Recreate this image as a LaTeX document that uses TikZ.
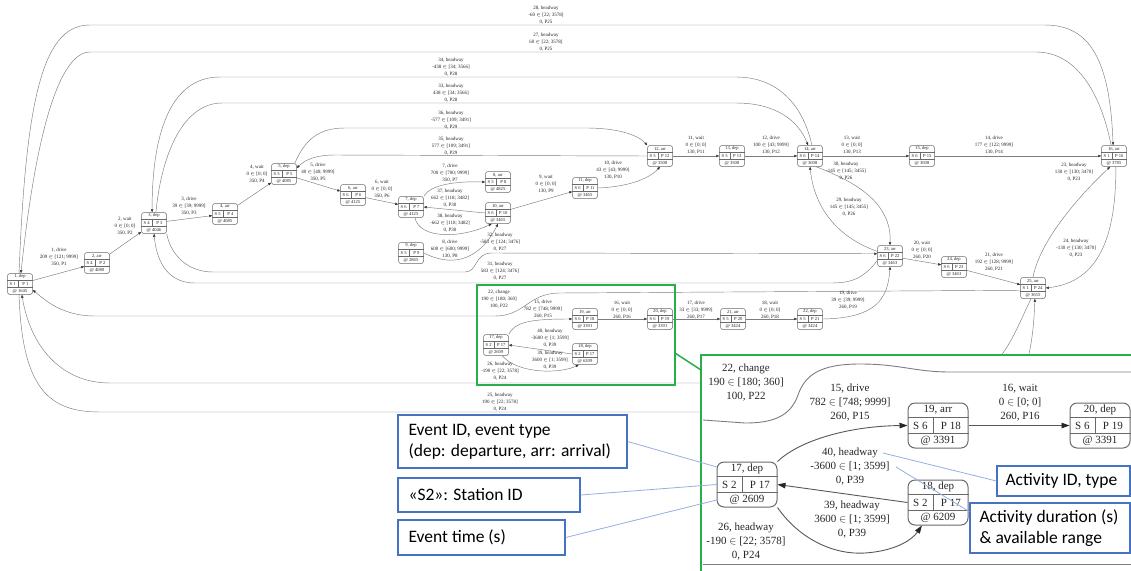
\documentclass[tikz,border=0pt]{standalone}
\usepackage{fontspec}
\setmainfont{Liberation Serif}
\newfontfamily\calfont{Carlito}
\usetikzlibrary{arrows.meta,calc}
\definecolor{edgeGray}{RGB}{125,125,125}
\definecolor{boxGray}{RGB}{105,105,105}
\definecolor{zoomGreen}{RGB}{40,175,75}
\definecolor{tipBlue}{RGB}{70,114,196}
\definecolor{tipLine}{RGB}{150,175,225}
\tikzset{
    smbox/.style={draw=boxGray, line width=0.5pt, rounded corners=2.5pt, fill=white,
                  minimum width=25pt, minimum height=21pt, inner sep=0pt},
    lgbox/.style={draw=boxGray, line width=1pt, rounded corners=7pt, fill=white,
                  minimum width=60pt, minimum height=45pt, inner sep=0pt},
    smrule/.style={draw=boxGray, line width=0.4pt},
    lgrule/.style={draw=boxGray, line width=0.8pt},
    smtxt/.style={font=\fontsize{4.6}{5}\selectfont, inner sep=0pt, text=black!85},
    lgtxt/.style={font=\fontsize{11}{12}\selectfont, inner sep=0pt, text=black!85},
    lbl/.style={font=\fontsize{5}{6.8}\selectfont, align=center, inner sep=0pt, text=black!85},
    lgl/.style={font=\fontsize{11}{14}\selectfont, align=center, inner sep=0pt, text=black!85},
    act/.style={draw=edgeGray, line width=0.45pt, -{Triangle[length=3pt, width=2.4pt, color=black!80]}},
    actL/.style={draw=edgeGray!70!black, line width=0.9pt, -{Triangle[length=8pt, width=5.5pt, color=black!85]}},
    wire/.style={draw=edgeGray, line width=0.9pt},
    zoomline/.style={draw=zoomGreen, line width=1.5pt},
    tipbox/.style={draw=tipBlue, line width=1.2pt, fill=white, inner sep=0pt},
    tiptext/.style={anchor=west, align=left, inner sep=0pt,
                    font=\calfont\fontsize{17.5}{21}\selectfont},
    tipline/.style={draw=tipLine, line width=0.8pt}
}
% event record: [size] name, position, id/type, station, platform, time
\newcommand{\ev}[7][sm]{%
  \node[#1box] (#2) at (#3) {};
  \coordinate (#2-d) at ($(#2.north west)!.42!(#2.north east)$);
  \coordinate (#2-db) at (#2-d |- #2.south);
  \coordinate (#2-dm) at (#2-d |- #2.center);
  \draw[#1rule] ($(#2.north west)!1/3!(#2.south west)$) -- ($(#2.north east)!1/3!(#2.south east)$);
  \draw[#1rule] ($(#2.north west)!2/3!(#2.south west)$) -- ($(#2.north east)!2/3!(#2.south east)$);
  \draw[#1rule] ($(#2-d)!1/3!(#2-db)$) -- ($(#2-d)!2/3!(#2-db)$);
  \node[#1txt] (#2-t) at ($(#2.north)!1/6!(#2.south)$) {#4};
  \node[#1txt] (#2-s) at ($(#2.west)!.5!(#2-dm)$) {S #5};
  \node[#1txt] (#2-p) at ($(#2-dm)!.5!(#2.east)$) {P #6};
  \node[#1txt] (#2-a) at ($(#2.north)!5/6!(#2.south)$) {@ #7};
}

\begin{document}
\begin{tikzpicture}[x=1pt, y=1pt]
\useasboundingbox[fill=white] (0,0) rectangle (1131,-570);

% events
\ev{e1}{20,-284}{1, dep}{1}{1}{1645}
\ev{e2}{97,-263}{2, arr}{4}{2}{4080}
\ev{e3}{154,-223}{3, dep}{4}{3}{4046}
\ev{e4}{225,-214}{4, arr}{5}{4}{4085}
\ev{e5}{284,-174}{5, dep}{5}{5}{4085}
\ev{e6}{353,-195}{6, arr}{6}{6}{4125}
\ev{e7}{411,-207}{7, dep}{6}{7}{4125}
\ev{e8}{498,-182}{8, arr}{5}{8}{4825}
\ev{e9}{411,-253}{9, dep}{5}{9}{2865}
\ev{e10}{498,-213}{10, arr}{6}{10}{3465}
\ev{e11}{585,-188}{11, dep}{6}{11}{3465}
\ev{e12}{660,-156}{12, arr}{5}{12}{3508}
\ev{e13}{732,-156}{13, dep}{5}{13}{3508}
\ev{e14}{810,-156}{14, arr}{6}{14}{3608}
\ev{e15}{922,-156}{15, dep}{6}{15}{3608}
\ev{e16}{1114,-156}{16, arr}{1}{16}{3785}
\ev{e17}{496,-345}{17, dep}{2}{17}{2609}
\ev{e18}{585,-354}{18, dep}{2}{17}{6209}
\ev{e19}{585,-319}{19, arr}{6}{18}{3391}
\ev{e20}{660,-319}{20, dep}{6}{19}{3391}
\ev{e21}{733,-319}{21, arr}{5}{20}{3424}
\ev{e22}{810,-319}{22, dep}{5}{21}{3424}
\ev{e23}{890,-256}{23, arr}{6}{22}{3463}
\ev{e24}{954,-267}{24, dep}{6}{23}{3463}
\ev{e25}{1033,-288}{25, arr}{1}{24}{3655}

% drive, wait and change activities
\draw[act] (e1) -- (e2);
\draw[act] (e2) -- (e3);
\draw[act] (e3) -- (e4);
\draw[act] (e4) -- (e5);
\draw[act] (e5) -- (e6);
\draw[act] (e6) -- (e7);
\draw[act] (e7.north east) .. controls (430,-185) and (455,-181) .. (e8.west);
\draw[act] (e9.east) .. controls (458,-270) and (482,-255) .. (e10.south);
\draw[act] (e10) -- (e11);
\draw[act] (e11.east) .. controls (625,-187) and (648,-180) .. (e12.south);
\draw[act] (e12) -- (e13);
\draw[act] (e13) -- (e14);
\draw[act] (e14) -- (e15);
\draw[act] (e15) -- (e16);
\draw[act] (e17.north east) .. controls (515,-322) and (530,-319) .. (e19.west);
\draw[act] (e19) -- (e20);
\draw[act] (e20) -- (e21);
\draw[act] (e21) -- (e22);
\draw[act] (e22.east) .. controls (875,-318) and (888,-300) .. (e23.south);
\draw[act] (e23) -- (e24);
\draw[act] (e24) -- (e25);
\draw[act] (e25.190) -- (560,-293) .. controls (528,-293) and (525,-316) .. (495,-316)
    -- (95,-316) .. controls (62,-316) and (45,-300) .. (e1.-25);

% headway activities
\draw[act] (e1.95) .. controls (26,-90) and (45,-25) .. (90,-25) -- (1045,-25)
    .. controls (1090,-25) and (1110,-60) .. (e16.95);
\draw[act] (e16.105) .. controls (1100,-90) and (1075,-52) .. (1036,-52) -- (90,-52)
    .. controls (60,-52) and (36,-130) .. (e1.85);
\draw[act] (e14.80) .. controls (803,-105) and (778,-77) .. (736,-77) -- (220,-77)
    .. controls (172,-77) and (152,-130) .. (e3.100);
\draw[act] (e3.80) .. controls (162,-150) and (185,-103) .. (222,-103) -- (736,-103)
    .. controls (775,-103) and (798,-120) .. (e14.100);
\draw[act] (e5.45) .. controls (305,-140) and (318,-128) .. (345,-128) -- (586,-128)
    .. controls (618,-128) and (638,-135) .. (e12.north west);
\draw[act] (e12.west) -- (335,-155) .. controls (315,-155) and (305,-160) .. (e5.25);
\draw[act] (e10.west) -- (e7.east);
\draw[act] (e7.-70) .. controls (420,-240) and (462,-238) .. (e10.-120);
\draw[act] (e3.south east) .. controls (170,-252) and (185,-272) .. (213,-272) -- (465,-272)
    .. controls (478,-272) and (474,-253) .. (492,-253) -- (e23.170);
\draw[act] (e23.200) .. controls (862,-280) and (850,-283) .. (830,-283) -- (195,-283)
    .. controls (170,-283) and (157,-265) .. (e3.south);
\draw[act] (e14.-60) .. controls (850,-180) and (892,-200) .. (e23.north);
\draw[act] (e23.160) .. controls (845,-240) and (815,-215) .. (e14.south);
\draw[act] (e25.north) .. controls (1040,-240) and (1080,-195) .. (e16.-110);
\draw[act] (e16.-80) .. controls (1116,-235) and (1100,-282) .. (e25.east);
\draw[act] (e25.-100) .. controls (1015,-330) and (1000,-383) .. (950,-383) -- (110,-383)
    .. controls (60,-383) and (30,-345) .. (e1.-80);
\draw[act] (e1.-95) .. controls (22,-390) and (50,-412) .. (100,-412) -- (970,-412)
    .. controls (1025,-412) and (1033,-350) .. (e25.-80);
\draw[act] (e18.west) -- (e17.east);
\draw[act] (e17.-60) .. controls (518,-374) and (560,-374) .. (e18.-120);

% activity labels
\node[lbl] (l1) at (59,-257) {1, drive\\209 $\in$ [121; 9999]\\350, P1};
\node[lbl] (l2) at (125,-226) {2, wait\\0 $\in$ [0; 0]\\350, P2};
\node[lbl] (l3) at (189,-206) {3, drive\\39 $\in$ [39; 9999]\\350, P3};
\node[lbl] (l4) at (257,-174) {4, wait\\0 $\in$ [0; 0]\\350, P4};
\node[lbl] (l5) at (318,-172) {5, drive\\40 $\in$ [40; 9999]\\350, P5};
\node[lbl] (l6) at (382,-189) {6, wait\\0 $\in$ [0; 0]\\350, P6};
\node[lbl] (l7) at (450,-173) {7, drive\\700 $\in$ [700; 9999]\\350, P7};
\node[lbl] (l8) at (450,-249) {8, drive\\600 $\in$ [600; 9999]\\130, P8};
\node[lbl] (l9) at (546,-184) {9, wait\\0 $\in$ [0; 0]\\130, P9};
\node[lbl] (l10) at (613,-170) {10, drive\\43 $\in$ [43; 9999]\\130, P10};
\node[lbl] (l11) at (696,-145) {11, wait\\0 $\in$ [0; 0]\\130, P11};
\node[lbl] (l12) at (771,-145) {12, drive\\100 $\in$ [43; 9999]\\130, P12};
\node[lbl] (l13) at (852,-145) {13, wait\\0 $\in$ [0; 0]\\130, P13};
\node[lbl] (l14) at (994,-145) {14, drive\\177 $\in$ [122; 9999]\\130, P14};
\node[lbl] (l15) at (543,-309) {15, drive\\782 $\in$ [748; 9999]\\260, P15};
\node[lbl] (l16) at (622,-310) {16, wait\\0 $\in$ [0; 0]\\260, P16};
\node[lbl] (l17) at (696,-310) {17, drive\\33 $\in$ [33; 9999]\\260, P17};
\node[lbl] (l18) at (770,-310) {18, wait\\0 $\in$ [0; 0]\\260, P18};
\node[lbl] (l19) at (848,-300) {19, drive\\39 $\in$ [39; 9999]\\260, P19};
\node[lbl] (l20) at (922,-250) {20, wait\\0 $\in$ [0; 0]\\260, P20};
\node[lbl] (l21) at (994,-262) {21, drive\\192 $\in$ [128; 9999]\\260, P21};
\node[lbl] (l22) at (499,-299) {22, change\\190 $\in$ [180; 360]\\100, P22};
\node[lbl] (l23) at (1074,-172) {23, headway\\130 $\in$ [130; 3470]\\0, P23};
\node[lbl] (l24) at (1076,-248) {24, headway\\-130 $\in$ [130; 3470]\\0, P23};
\node[lbl] (l25) at (500,-402) {25, headway\\190 $\in$ [22; 3578]\\0, P24};
\node[lbl] (l26) at (500,-371) {26, headway\\-190 $\in$ [22; 3578]\\0, P24};
\node[lbl] (l27) at (546,-42) {27, headway\\60 $\in$ [22; 3578]\\0, P25};
\node[lbl] (l28) at (546,-15) {28, headway\\-60 $\in$ [22; 3578]\\0, P25};
\node[lbl] (l29) at (849,-207) {29, headway\\145 $\in$ [145; 3455]\\0, P26};
\node[lbl] (l30) at (846,-171) {30, headway\\-145 $\in$ [145; 3455]\\0, P26};
\node[lbl] (l31) at (500,-271) {31, headway\\583 $\in$ [124; 3476]\\0, P27};
\node[lbl] (l32) at (500,-242) {32, headway\\-583 $\in$ [124; 3476]\\0, P27};
\node[lbl] (l33) at (451,-93) {33, headway\\438 $\in$ [34; 3566]\\0, P28};
\node[lbl] (l34) at (451,-67) {34, headway\\-438 $\in$ [34; 3566]\\0, P28};
\node[lbl] (l35) at (451,-146) {35, headway\\577 $\in$ [109; 3491]\\0, P29};
\node[lbl] (l36) at (451,-120) {36, headway\\-577 $\in$ [109; 3491]\\0, P29};
\node[lbl] (l37) at (450,-198) {37, headway\\662 $\in$ [118; 3482]\\0, P30};
\node[lbl] (l38) at (450,-223) {38, headway\\-662 $\in$ [118; 3482]\\0, P30};
\node[lbl] (l39) at (550,-360) {39, headway\\3600 $\in$ [1; 3599]\\0, P39};
\node[lbl] (l40) at (550,-338) {40, headway\\-3600 $\in$ [1; 3599]\\0, P39};

% zoomed part
\draw[zoomline] (477,-285) rectangle (675,-385);
\fill[white] (701,-355) rectangle (1140,-580);
\draw[zoomline, line width=2.6pt] (701,-580) |- (1140,-355);
\draw[zoomline] (675,-353) -- (701,-370);

\ev[lg]{E17}{747,-484.5}{17, dep}{2}{17}{2609}
\ev[lg]{E18}{938,-502.5}{18, dep}{2}{17}{6209}
\ev[lg]{E19}{938,-425.5}{19, arr}{6}{18}{3391}
\ev[lg]{E20}{1100,-425.5}{20, dep}{6}{19}{3391}

\coordinate (zR) at (1131,-372);
\coordinate (zL) at (703,-420);
\coordinate (zB1) at (703,-564);
\coordinate (zB2) at (1131,-564);
\draw[wire] (zR) -- (950,-372) .. controls (915,-372) and (900,-364) .. (860,-364)
    .. controls (820,-364) and (805,-375) .. (798,-395)
    .. controls (790,-418) and (770,-423) .. (745,-423) -- (zL);
\draw[wire] (zB1) -- (zB2);
\draw[actL] (E17.north east) .. controls (800,-440) and (850,-426) .. (E19.west);
\draw[actL] (E19) -- (E20);
\draw[actL] (E18.west) -- (E17.east);
\draw[actL] (E17.south east) .. controls (800,-540) and (835,-555) .. (865,-553)
    .. controls (895,-551) and (912,-540) .. (E18.-125);

\node[lgl] (L22) at (746,-383) {22, change\\190 $\in$ [180; 360]\\100, P22};
\node[lgl] (L15) at (850,-403) {15, drive\\782 $\in$ [748; 9999]\\260, P15};
\node[lgl] (L16) at (1020,-403) {16, wait\\0 $\in$ [0; 0]\\260, P16};
\node[lgl] (L40) at (850,-467) {40, headway\\-3600 $\in$ [1; 3599]\\0, P39};
\node[lgl] (L39) at (852,-520) {39, headway\\3600 $\in$ [1; 3599]\\0, P39};
\node[lgl] (L26) at (746,-542) {26, headway\\-190 $\in$ [22; 3578]\\0, P24};

% explanations
\node[tipbox, minimum width=229pt, minimum height=53pt] (cb1) at (512.5,-441.5) {};
\node[tiptext] (cb1-t) at ([xshift=11pt]cb1.west) {Event ID, event type\\(dep: departure, arr: arrival)};
\node[tipbox, minimum width=182pt, minimum height=34pt] (cb2) at (489,-495) {};
\node[tiptext] (cb2-t) at ([xshift=11pt]cb2.west) {«S2»: Station ID};
\node[tipbox, minimum width=167pt, minimum height=35pt] (cb3) at (481.5,-537.5) {};
\node[tiptext] (cb3-t) at ([xshift=11pt]cb3.west) {Event time (s)};
\node[tipbox, minimum width=133pt, minimum height=30pt] (cb4) at (1063.5,-481) {};
\node[tiptext] (cb4-t) at ([xshift=9pt]cb4.west) {Activity ID, type};
\node[tipbox, minimum width=160pt, minimum height=50pt] (cb5) at (1050,-528) {};
\node[tiptext] (cb5-t) at ([xshift=10pt]cb5.west) {Activity duration (s)\\\& available range};
\coordinate (a40) at (883,-453);
\coordinate (a40r) at (896,-467);
\draw[tipline] (cb1.east) -- (E17.150);
\draw[tipline] (cb2.east) -- (E17.west);
\draw[tipline] (cb3.east) -- (E17.-153);
\draw[tipline] (cb4.west) -- (a40);
\draw[tipline] (a40r) -- ($(cb5.north west)!.18!(cb5.south west)$);
\end{tikzpicture}
\end{document}
